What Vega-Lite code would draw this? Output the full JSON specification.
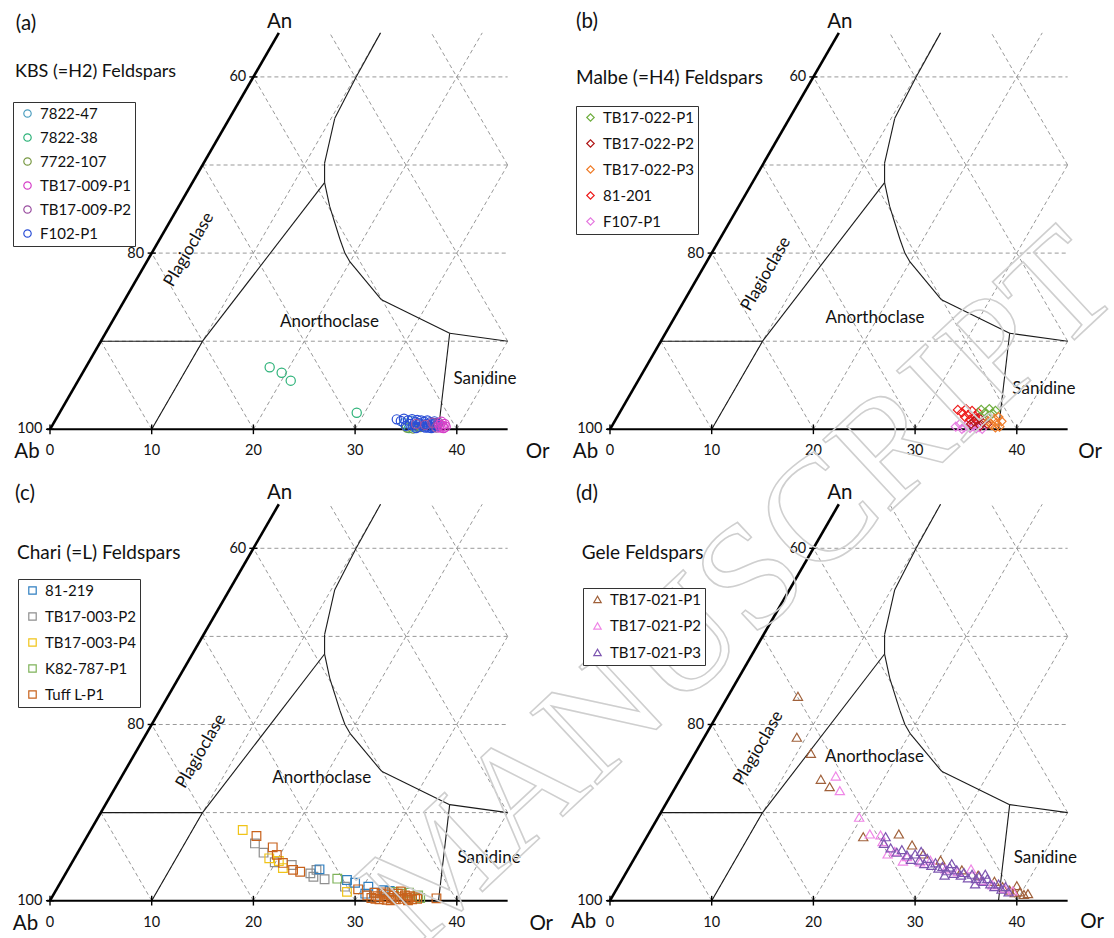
{
"$schema":"https://vega.github.io/schema/vega-lite/v6.json",
"padding":0,
"background":"white",
"config":{"view":{"stroke":null},"font":"Lato","text":{"font":"Lato","color":"#111"},"legend":{"title":null,"orient":"none","labelFont":"Lato","labelFontSize":15,"labelColor":"#111","symbolSize":55,"symbolStrokeWidth":1.2,"padding":4,"symbolOffset":3,"labelOffset":5,"strokeColor":"#333","fillColor":"white"}},
"datasets":{
"grid":[{"x":10,"y":0,"x2":32.5,"y2":45},{"x":20,"y":0,"x2":42.5,"y2":45},{"x":30,"y":0,"x2":45,"y2":30},{"x":40,"y":0,"x2":45,"y2":10},{"x":10,"y":0,"x2":5,"y2":10},{"x":20,"y":0,"x2":10,"y2":20},{"x":30,"y":0,"x2":15,"y2":30},{"x":40,"y":0,"x2":20,"y2":40},{"x":45,"y":10,"x2":27.5,"y2":45},{"x":45,"y":30,"x2":37.5,"y2":45},{"x":5,"y":10,"x2":45,"y2":10},{"x":10,"y":20,"x2":45,"y2":20},{"x":15,"y":30,"x2":45,"y2":30},{"x":20,"y":40,"x2":45,"y2":40}],
"bound":[{"x":5,"y":10,"x2":15,"y2":10},{"x":10,"y":0,"x2":15,"y2":10},{"x":15,"y":10,"x2":27,"y2":28},{"x":32.5,"y":45,"x2":30.1,"y2":40},{"x":30.1,"y":40,"x2":28.0,"y2":35.3},{"x":28.0,"y":35.3,"x2":27.0,"y2":30.2},{"x":27.0,"y":30.2,"x2":27.0,"y2":28},{"x":27.0,"y":28,"x2":27.5,"y2":25.3},{"x":27.5,"y":25.3,"x2":28.5,"y2":21.6},{"x":28.5,"y":21.6,"x2":29.0,"y2":20},{"x":29.0,"y":20,"x2":29.5,"y2":19},{"x":29.5,"y":19,"x2":32.6,"y2":14.7},{"x":32.6,"y":14.7,"x2":39.3,"y2":10.9},{"x":39.3,"y":10.9,"x2":45,"y2":10},{"x":39.3,"y":10.9,"x2":38.2,"y2":0}],
"edgeL":[{"x":0,"y":0,"x2":22.5,"y2":45}],
"edgeB":[{"x":-0.3,"y":0,"x2":45,"y2":0}],
"ticks":[{"x":0,"y":-0.55,"x2":0,"y2":0.55},{"x":10,"y":-0.55,"x2":10,"y2":0.55},{"x":20,"y":-0.55,"x2":20,"y2":0.55},{"x":30,"y":-0.55,"x2":30,"y2":0.55},{"x":40,"y":-0.55,"x2":40,"y2":0.55},{"x":-0.4,"y":0,"x2":0.4,"y2":0},{"x":9.6,"y":20,"x2":10.4,"y2":20},{"x":19.6,"y":40,"x2":20.4,"y2":40}],
"baseLabels":[{"x":0,"y":-2.5,"t":"0"},{"x":10,"y":-2.5,"t":"10"},{"x":20,"y":-2.5,"t":"20"},{"x":30,"y":-2.5,"t":"30"},{"x":40,"y":-2.5,"t":"40"}],
"leftLabels":[{"x":-0.75,"y":0,"t":"100"},{"x":9.25,"y":19.95,"t":"80"},{"x":19.3,"y":39.95,"t":"60"}]
},
"columns":2,
"spacing":0,
"bounds":"flush",
"resolve":{"scale":{"x":"independent","y":"independent","color":"independent"}},
"concat":[
{"width":555,"height":469,
"encoding":{"x":{"field":"x","type":"quantitative","scale":{"domain":[-4.917,49.656],"nice":false,"zero":false},"axis":null},"y":{"field":"y","type":"quantitative","scale":{"domain":[-4.506,48.73],"nice":false,"zero":false},"axis":null}},
"layer":[
{"data":{"name":"grid"},"mark":{"type":"rule","stroke":"#999","strokeWidth":1,"strokeDash":[4,3]},"encoding":{"x2":{"field":"x2"},"y2":{"field":"y2"}}},
{"data":{"name":"bound"},"mark":{"type":"rule","stroke":"#1a1a1a","strokeWidth":1.1},"encoding":{"x2":{"field":"x2"},"y2":{"field":"y2"}}},
{"data":{"name":"edgeL"},"mark":{"type":"rule","stroke":"#000","strokeWidth":2.6},"encoding":{"x2":{"field":"x2"},"y2":{"field":"y2"}}},
{"data":{"name":"edgeB"},"mark":{"type":"rule","stroke":"#000","strokeWidth":2},"encoding":{"x2":{"field":"x2"},"y2":{"field":"y2"}}},
{"data":{"name":"ticks"},"mark":{"type":"rule","stroke":"#000","strokeWidth":1.4},"encoding":{"x2":{"field":"x2"},"y2":{"field":"y2"}}},
{"data":{"name":"baseLabels"},"mark":{"type":"text","fontSize":14.5,"align":"center","baseline":"middle"},"encoding":{"text":{"field":"t"}}},
{"data":{"name":"leftLabels"},"mark":{"type":"text","fontSize":14.5,"align":"right","baseline":"middle"},"encoding":{"text":{"field":"t"}}},
{"data":{"values":[{"x":-2.36,"y":46.0,"t":"(a)"},{"x":22.57,"y":46.23,"t":"An"},{"x":-2.26,"y":-2.57,"t":"Ab"},{"x":47.94,"y":-2.57,"t":"Or"}]},"mark":{"type":"text","fontSize":20.5,"align":"center","baseline":"middle"},"encoding":{"text":{"field":"t"}}},
{"data":{"values":[{"x":-3.44,"y":40.56,"t":"KBS (=H2) Feldspars"}]},"mark":{"type":"text","fontSize":18,"align":"left","baseline":"middle"},"encoding":{"text":{"field":"t"}}},
{"data":{"values":[{"x":27.48,"y":12.21,"t":"Anorthoclase"},{"x":42.77,"y":5.71,"t":"Sanidine"}]},"mark":{"type":"text","fontSize":17,"align":"center","baseline":"middle"},"encoding":{"text":{"field":"t"}}},
{"data":{"values":[{"x":13.67,"y":20.4,"t":"Plagioclase"}]},"mark":{"type":"text","fontSize":17,"align":"center","baseline":"middle","angle":-60},"encoding":{"text":{"field":"t"}}},
{"data":{"values":[
{"s":"7822-38","x":21.6,"y":7.04},{"s":"7822-38","x":22.78,"y":6.42},{"s":"7822-38","x":23.67,"y":5.52},{"s":"7822-38","x":30.16,"y":1.88},{"s":"7822-38","x":35.3,"y":0.15},{"s":"7822-38","x":35.9,"y":0.3},
{"s":"7822-47","x":34.8,"y":0.7},{"s":"7822-47","x":35.5,"y":0.95},{"s":"7822-47","x":36.3,"y":0.55},
{"s":"7722-107","x":35.1,"y":0.2},{"s":"7722-107","x":35.7,"y":0.1},{"s":"7722-107","x":36.4,"y":0.25},
{"s":"F102-P1","x":34.1,"y":1.13},{"s":"F102-P1","x":34.5,"y":0.95},{"s":"F102-P1","x":34.8,"y":1.2},{"s":"F102-P1","x":35.2,"y":1.0},{"s":"F102-P1","x":35.4,"y":0.6},{"s":"F102-P1","x":35.6,"y":1.15},{"s":"F102-P1","x":35.9,"y":0.8},{"s":"F102-P1","x":36.1,"y":1.05},{"s":"F102-P1","x":36.3,"y":0.7},{"s":"F102-P1","x":36.5,"y":1.0},{"s":"F102-P1","x":36.6,"y":0.45},{"s":"F102-P1","x":36.8,"y":0.85},{"s":"F102-P1","x":37.0,"y":0.6},{"s":"F102-P1","x":37.1,"y":1.0},{"s":"F102-P1","x":37.3,"y":0.4},{"s":"F102-P1","x":37.4,"y":0.8},{"s":"F102-P1","x":37.6,"y":0.55},{"s":"F102-P1","x":37.7,"y":0.25},{"s":"F102-P1","x":37.9,"y":0.7},{"s":"F102-P1","x":38.0,"y":0.4},{"s":"F102-P1","x":36.9,"y":0.2},{"s":"F102-P1","x":36.2,"y":0.3},{"s":"F102-P1","x":35.7,"y":0.45},{"s":"F102-P1","x":35.0,"y":0.4},{"s":"F102-P1","x":37.5,"y":0.15},{"s":"F102-P1","x":38.1,"y":0.6},{"s":"F102-P1","x":36.0,"y":0.15},{"s":"F102-P1","x":36.7,"y":0.3},{"s":"F102-P1","x":37.2,"y":0.2},{"s":"F102-P1","x":37.8,"y":0.9},
{"s":"TB17-009-P2","x":36.0,"y":0.6},{"s":"TB17-009-P2","x":36.9,"y":0.5},{"s":"TB17-009-P2","x":37.6,"y":0.75},{"s":"TB17-009-P2","x":38.2,"y":0.75},{"s":"TB17-009-P2","x":38.0,"y":0.2},
{"s":"TB17-009-P1","x":38.3,"y":0.5},{"s":"TB17-009-P1","x":38.6,"y":0.4},{"s":"TB17-009-P1","x":38.8,"y":0.6},{"s":"TB17-009-P1","x":38.5,"y":0.85},{"s":"TB17-009-P1","x":38.9,"y":0.3},{"s":"TB17-009-P1","x":38.4,"y":0.2},{"s":"TB17-009-P1","x":38.7,"y":0.15}
]},
"mark":{"type":"point","shape":"circle","filled":false,"size":85,"strokeWidth":1.2,"opacity":1},
"encoding":{"color":{"field":"s","type":"nominal","scale":{"domain":["7822-47","7822-38","7722-107","TB17-009-P1","TB17-009-P2","F102-P1"],"range":["#4f9fc0","#2fb37a","#7a9a45","#d63fc8","#9a4fa0","#2b4fd6"]},"legend":{"legendX":13,"legendY":102,"symbolType":"circle","rowPadding":8}}}}
]},
{"width":559,"height":469,
"encoding":{"x":{"field":"x","type":"quantitative","scale":{"domain":[-5.408,49.558],"nice":false,"zero":false},"axis":null},"y":{"field":"y","type":"quantitative","scale":{"domain":[-4.506,48.73],"nice":false,"zero":false},"axis":null}},
"layer":[
{"data":{"name":"grid"},"mark":{"type":"rule","stroke":"#999","strokeWidth":1,"strokeDash":[4,3]},"encoding":{"x2":{"field":"x2"},"y2":{"field":"y2"}}},
{"data":{"name":"bound"},"mark":{"type":"rule","stroke":"#1a1a1a","strokeWidth":1.1},"encoding":{"x2":{"field":"x2"},"y2":{"field":"y2"}}},
{"data":{"name":"edgeL"},"mark":{"type":"rule","stroke":"#000","strokeWidth":2.6},"encoding":{"x2":{"field":"x2"},"y2":{"field":"y2"}}},
{"data":{"name":"edgeB"},"mark":{"type":"rule","stroke":"#000","strokeWidth":2},"encoding":{"x2":{"field":"x2"},"y2":{"field":"y2"}}},
{"data":{"name":"ticks"},"mark":{"type":"rule","stroke":"#000","strokeWidth":1.4},"encoding":{"x2":{"field":"x2"},"y2":{"field":"y2"}}},
{"data":{"name":"baseLabels"},"mark":{"type":"text","fontSize":14.5,"align":"center","baseline":"middle"},"encoding":{"text":{"field":"t"}}},
{"data":{"name":"leftLabels"},"mark":{"type":"text","fontSize":14.5,"align":"right","baseline":"middle"},"encoding":{"text":{"field":"t"}}},
{"data":{"values":[{"x":-2.26,"y":46.23,"t":"(b)"},{"x":22.6,"y":46.23,"t":"An"},{"x":-2.41,"y":-2.57,"t":"Ab"},{"x":47.2,"y":-2.57,"t":"Or"}]},"mark":{"type":"text","fontSize":20.5,"align":"center","baseline":"middle"},"encoding":{"text":{"field":"t"}}},
{"data":{"values":[{"x":-3.34,"y":39.87,"t":"Malbe (=H4) Feldspars"}]},"mark":{"type":"text","fontSize":19,"align":"left","baseline":"middle"},"encoding":{"text":{"field":"t"}}},
{"data":{"values":[{"x":26.06,"y":12.6,"t":"Anorthoclase"},{"x":42.67,"y":4.52,"t":"Sanidine"}]},"mark":{"type":"text","fontSize":17,"align":"center","baseline":"middle"},"encoding":{"text":{"field":"t"}}},
{"data":{"values":[{"x":15.34,"y":17.63,"t":"Plagioclase"}]},"mark":{"type":"text","fontSize":17,"align":"center","baseline":"middle","angle":-60},"encoding":{"text":{"field":"t"}}},
{"data":{"values":[
{"s":"F107-P1","x":34.0,"y":0.3},{"s":"F107-P1","x":34.4,"y":0.6},{"s":"F107-P1","x":34.8,"y":0.2},{"s":"F107-P1","x":35.1,"y":0.5},{"s":"F107-P1","x":35.4,"y":0.15},{"s":"F107-P1","x":35.7,"y":0.35},{"s":"F107-P1","x":36.0,"y":0.1},{"s":"F107-P1","x":36.3,"y":0.25},{"s":"F107-P1","x":36.6,"y":0.05},{"s":"F107-P1","x":34.6,"y":0.05},{"s":"F107-P1","x":35.9,"y":0.6},
{"s":"81-201","x":34.2,"y":2.2},{"s":"81-201","x":34.6,"y":1.9},{"s":"81-201","x":35.0,"y":2.3},{"s":"81-201","x":35.3,"y":1.7},{"s":"81-201","x":35.6,"y":2.1},{"s":"81-201","x":35.9,"y":1.5},{"s":"81-201","x":34.9,"y":1.4},{"s":"81-201","x":36.2,"y":1.9},{"s":"81-201","x":35.4,"y":1.1},{"s":"81-201","x":36.0,"y":1.2},
{"s":"TB17-022-P2","x":35.8,"y":0.9},{"s":"TB17-022-P2","x":36.3,"y":1.3},{"s":"TB17-022-P2","x":36.6,"y":0.8},{"s":"TB17-022-P2","x":36.9,"y":1.1},{"s":"TB17-022-P2","x":36.4,"y":0.4},{"s":"TB17-022-P2","x":37.1,"y":0.6},{"s":"TB17-022-P2","x":35.5,"y":0.6},
{"s":"TB17-022-P1","x":36.5,"y":2.2},{"s":"TB17-022-P1","x":36.9,"y":1.9},{"s":"TB17-022-P1","x":37.3,"y":2.3},{"s":"TB17-022-P1","x":37.6,"y":1.8},{"s":"TB17-022-P1","x":37.9,"y":2.1},{"s":"TB17-022-P1","x":37.2,"y":1.5},
{"s":"TB17-022-P3","x":37.2,"y":0.9},{"s":"TB17-022-P3","x":37.5,"y":0.5},{"s":"TB17-022-P3","x":37.8,"y":1.2},{"s":"TB17-022-P3","x":38.0,"y":0.7},{"s":"TB17-022-P3","x":38.3,"y":0.3},{"s":"TB17-022-P3","x":38.5,"y":0.9},{"s":"TB17-022-P3","x":37.9,"y":0.2},{"s":"TB17-022-P3","x":38.2,"y":1.4}
]},
"mark":{"type":"point","shape":"diamond","filled":false,"size":80,"strokeWidth":1.2,"opacity":1},
"encoding":{"color":{"field":"s","type":"nominal","scale":{"domain":["TB17-022-P1","TB17-022-P2","TB17-022-P3","81-201","F107-P1"],"range":["#6fae3f","#b01818","#f07d2a","#ee1c1c","#e67be0"]},"legend":{"legendX":21,"legendY":106,"symbolType":"diamond","rowPadding":10}}}}
]},
{"width":555,"height":469,
"encoding":{"x":{"field":"x","type":"quantitative","scale":{"domain":[-4.917,49.656],"nice":false,"zero":false},"axis":null},"y":{"field":"y","type":"quantitative","scale":{"domain":[-4.234,49.0],"nice":false,"zero":false},"axis":null}},
"layer":[
{"data":{"name":"grid"},"mark":{"type":"rule","stroke":"#999","strokeWidth":1,"strokeDash":[4,3]},"encoding":{"x2":{"field":"x2"},"y2":{"field":"y2"}}},
{"data":{"name":"bound"},"mark":{"type":"rule","stroke":"#1a1a1a","strokeWidth":1.1},"encoding":{"x2":{"field":"x2"},"y2":{"field":"y2"}}},
{"data":{"name":"edgeL"},"mark":{"type":"rule","stroke":"#000","strokeWidth":2.6},"encoding":{"x2":{"field":"x2"},"y2":{"field":"y2"}}},
{"data":{"name":"edgeB"},"mark":{"type":"rule","stroke":"#000","strokeWidth":2},"encoding":{"x2":{"field":"x2"},"y2":{"field":"y2"}}},
{"data":{"name":"ticks"},"mark":{"type":"rule","stroke":"#000","strokeWidth":1.4},"encoding":{"x2":{"field":"x2"},"y2":{"field":"y2"}}},
{"data":{"name":"baseLabels"},"mark":{"type":"text","fontSize":14.5,"align":"center","baseline":"middle"},"encoding":{"text":{"field":"t"}}},
{"data":{"name":"leftLabels"},"mark":{"type":"text","fontSize":14.5,"align":"right","baseline":"middle"},"encoding":{"text":{"field":"t"}}},
{"data":{"values":[{"x":-2.46,"y":46.16,"t":"(c)"},{"x":22.57,"y":46.28,"t":"An"},{"x":-2.41,"y":-2.7,"t":"Ab"},{"x":48.3,"y":-2.64,"t":"Or"}]},"mark":{"type":"text","fontSize":20.5,"align":"center","baseline":"middle"},"encoding":{"text":{"field":"t"}}},
{"data":{"values":[{"x":-3.24,"y":39.47,"t":"Chari (=L) Feldspars"}]},"mark":{"type":"text","fontSize":19,"align":"left","baseline":"middle"},"encoding":{"text":{"field":"t"}}},
{"data":{"values":[{"x":26.72,"y":13.88,"t":"Anorthoclase"},{"x":43.17,"y":4.85,"t":"Sanidine"}]},"mark":{"type":"text","fontSize":17,"align":"center","baseline":"middle"},"encoding":{"text":{"field":"t"}}},
{"data":{"values":[{"x":14.85,"y":16.97,"t":"Plagioclase"}]},"mark":{"type":"text","fontSize":17,"align":"center","baseline":"middle","angle":-60},"encoding":{"text":{"field":"t"}}},
{"data":{"values":[
{"s":"TB17-003-P2","x":20.15,"y":6.5},{"s":"TB17-003-P2","x":21.0,"y":5.45},{"s":"TB17-003-P2","x":22.1,"y":4.36},{"s":"TB17-003-P2","x":23.77,"y":4.05},{"s":"TB17-003-P2","x":25.6,"y":3.1},{"s":"TB17-003-P2","x":25.9,"y":2.72},{"s":"TB17-003-P2","x":26.2,"y":3.5},{"s":"TB17-003-P2","x":27.0,"y":2.43},{"s":"TB17-003-P2","x":29.0,"y":1.59},
{"s":"TB17-003-P4","x":18.95,"y":8.02},{"s":"TB17-003-P4","x":21.56,"y":4.81},{"s":"TB17-003-P4","x":22.9,"y":3.7},{"s":"TB17-003-P4","x":29.2,"y":1.0},{"s":"TB17-003-P4","x":22.5,"y":4.5},
{"s":"81-219","x":26.5,"y":3.56},{"s":"81-219","x":29.2,"y":2.35},{"s":"81-219","x":30.0,"y":2.04},{"s":"81-219","x":31.3,"y":1.59},{"s":"81-219","x":32.8,"y":1.2},{"s":"81-219","x":33.4,"y":1.1},{"s":"81-219","x":32.0,"y":0.9},{"s":"81-219","x":31.0,"y":0.8},
{"s":"K82-787-P1","x":28.25,"y":2.5},{"s":"K82-787-P1","x":33.8,"y":1.0},{"s":"K82-787-P1","x":34.6,"y":0.8},{"s":"K82-787-P1","x":35.3,"y":0.9},{"s":"K82-787-P1","x":36.2,"y":0.6},{"s":"K82-787-P1","x":36.4,"y":0.3},
{"s":"Tuff L-P1","x":20.3,"y":7.34},{"s":"Tuff L-P1","x":21.9,"y":6.06},{"s":"Tuff L-P1","x":22.3,"y":5.2},{"s":"Tuff L-P1","x":22.9,"y":4.29},{"s":"Tuff L-P1","x":23.9,"y":3.5},{"s":"Tuff L-P1","x":24.6,"y":3.29},{"s":"Tuff L-P1","x":30.3,"y":1.29},{"s":"Tuff L-P1","x":38.0,"y":0.27},
{"s":"Tuff L-P1","x":31.2,"y":0.6},{"s":"Tuff L-P1","x":31.6,"y":0.3},{"s":"Tuff L-P1","x":31.9,"y":0.9},{"s":"Tuff L-P1","x":32.2,"y":0.5},{"s":"Tuff L-P1","x":32.4,"y":0.15},{"s":"Tuff L-P1","x":32.6,"y":0.8},{"s":"Tuff L-P1","x":32.9,"y":0.4},{"s":"Tuff L-P1","x":33.1,"y":0.1},{"s":"Tuff L-P1","x":33.3,"y":0.7},{"s":"Tuff L-P1","x":33.6,"y":0.3},{"s":"Tuff L-P1","x":33.8,"y":0.55},{"s":"Tuff L-P1","x":34.0,"y":0.15},{"s":"Tuff L-P1","x":34.2,"y":0.8},{"s":"Tuff L-P1","x":34.4,"y":0.4},{"s":"Tuff L-P1","x":34.7,"y":0.2},{"s":"Tuff L-P1","x":34.9,"y":0.6},{"s":"Tuff L-P1","x":35.1,"y":0.3},{"s":"Tuff L-P1","x":35.4,"y":0.5},{"s":"Tuff L-P1","x":35.6,"y":0.15},{"s":"Tuff L-P1","x":35.9,"y":0.4},{"s":"Tuff L-P1","x":36.1,"y":0.2},{"s":"Tuff L-P1","x":33.0,"y":0.95},{"s":"Tuff L-P1","x":34.5,"y":1.05},{"s":"Tuff L-P1","x":32.0,"y":0.2},{"s":"Tuff L-P1","x":35.2,"y":0.05},{"s":"Tuff L-P1","x":33.5,"y":0.05}
]},
"mark":{"type":"point","shape":"square","filled":false,"size":75,"strokeWidth":1.2,"opacity":1},
"encoding":{"color":{"field":"s","type":"nominal","scale":{"domain":["81-219","TB17-003-P2","TB17-003-P4","K82-787-P1","Tuff L-P1"],"range":["#2f7fc1","#8f8f8f","#f0c419","#7fb35a","#c8621c"]},"legend":{"legendX":18,"legendY":110,"symbolType":"square","rowPadding":10}}}}
]},
{"width":559,"height":469,
"encoding":{"x":{"field":"x","type":"quantitative","scale":{"domain":[-5.408,49.558],"nice":false,"zero":false},"axis":null},"y":{"field":"y","type":"quantitative","scale":{"domain":[-4.234,49.0],"nice":false,"zero":false},"axis":null}},
"layer":[
{"data":{"name":"grid"},"mark":{"type":"rule","stroke":"#999","strokeWidth":1,"strokeDash":[4,3]},"encoding":{"x2":{"field":"x2"},"y2":{"field":"y2"}}},
{"data":{"name":"bound"},"mark":{"type":"rule","stroke":"#1a1a1a","strokeWidth":1.1},"encoding":{"x2":{"field":"x2"},"y2":{"field":"y2"}}},
{"data":{"name":"edgeL"},"mark":{"type":"rule","stroke":"#000","strokeWidth":2.6},"encoding":{"x2":{"field":"x2"},"y2":{"field":"y2"}}},
{"data":{"name":"edgeB"},"mark":{"type":"rule","stroke":"#000","strokeWidth":2},"encoding":{"x2":{"field":"x2"},"y2":{"field":"y2"}}},
{"data":{"name":"ticks"},"mark":{"type":"rule","stroke":"#000","strokeWidth":1.4},"encoding":{"x2":{"field":"x2"},"y2":{"field":"y2"}}},
{"data":{"name":"baseLabels"},"mark":{"type":"text","fontSize":14.5,"align":"center","baseline":"middle"},"encoding":{"text":{"field":"t"}}},
{"data":{"name":"leftLabels"},"mark":{"type":"text","fontSize":14.5,"align":"right","baseline":"middle"},"encoding":{"text":{"field":"t"}}},
{"data":{"values":[{"x":-2.26,"y":46.16,"t":"(d)"},{"x":22.6,"y":46.28,"t":"An"},{"x":-2.6,"y":-2.4,"t":"Ab"},{"x":47.4,"y":-2.4,"t":"Or"}]},"mark":{"type":"text","fontSize":20.5,"align":"center","baseline":"middle"},"encoding":{"text":{"field":"t"}}},
{"data":{"values":[{"x":-2.78,"y":39.47,"t":"Gele Feldspars"}]},"mark":{"type":"text","fontSize":19,"align":"left","baseline":"middle"},"encoding":{"text":{"field":"t"}}},
{"data":{"values":[{"x":26.0,"y":16.31,"t":"Anorthoclase"},{"x":42.8,"y":4.9,"t":"Sanidine"}]},"mark":{"type":"text","fontSize":17,"align":"center","baseline":"middle"},"encoding":{"text":{"field":"t"}}},
{"data":{"values":[{"x":14.6,"y":17.33,"t":"Plagioclase"}]},"mark":{"type":"text","fontSize":17,"align":"center","baseline":"middle","angle":-60},"encoding":{"text":{"field":"t"}}},
{"data":{"values":[
{"s":"TB17-021-P1","x":18.48,"y":23.2},{"s":"TB17-021-P1","x":18.37,"y":18.55},{"s":"TB17-021-P1","x":19.75,"y":16.73},{"s":"TB17-021-P1","x":20.73,"y":13.78},{"s":"TB17-021-P1","x":21.6,"y":12.94},{"s":"TB17-021-P1","x":24.9,"y":7.26},{"s":"TB17-021-P1","x":28.4,"y":7.57},{"s":"TB17-021-P1","x":29.7,"y":6.32},{"s":"TB17-021-P1","x":30.8,"y":5.3},{"s":"TB17-021-P1","x":32.5,"y":4.6},{"s":"TB17-021-P1","x":34.6,"y":3.5},{"s":"TB17-021-P1","x":36.2,"y":2.9},{"s":"TB17-021-P1","x":37.8,"y":2.2},{"s":"TB17-021-P1","x":38.6,"y":1.6},{"s":"TB17-021-P1","x":39.3,"y":1.2},{"s":"TB17-021-P1","x":40.0,"y":1.7},{"s":"TB17-021-P1","x":40.3,"y":1.0},{"s":"TB17-021-P1","x":40.7,"y":0.7},{"s":"TB17-021-P1","x":41.1,"y":0.8},{"s":"TB17-021-P1","x":39.8,"y":0.9},
{"s":"TB17-021-P2","x":22.2,"y":14.15},{"s":"TB17-021-P2","x":22.6,"y":12.49},{"s":"TB17-021-P2","x":24.5,"y":9.47},{"s":"TB17-021-P2","x":25.55,"y":7.57},{"s":"TB17-021-P2","x":26.6,"y":7.46},{"s":"TB17-021-P2","x":26.8,"y":6.7},{"s":"TB17-021-P2","x":28.0,"y":5.6},{"s":"TB17-021-P2","x":29.2,"y":5.0},{"s":"TB17-021-P2","x":30.5,"y":4.4},{"s":"TB17-021-P2","x":31.5,"y":4.6},{"s":"TB17-021-P2","x":33.0,"y":3.6},{"s":"TB17-021-P2","x":34.2,"y":3.3},{"s":"TB17-021-P2","x":35.5,"y":3.6},{"s":"TB17-021-P2","x":36.5,"y":2.3},{"s":"TB17-021-P2","x":37.6,"y":1.8},{"s":"TB17-021-P2","x":38.8,"y":1.4},{"s":"TB17-021-P2","x":39.6,"y":1.1},{"s":"TB17-021-P2","x":27.3,"y":5.3},{"s":"TB17-021-P2","x":28.8,"y":4.5},
{"s":"TB17-021-P3","x":27.1,"y":7.26},{"s":"TB17-021-P3","x":26.94,"y":6.5},{"s":"TB17-021-P3","x":27.6,"y":6.0},{"s":"TB17-021-P3","x":28.2,"y":5.5},{"s":"TB17-021-P3","x":28.7,"y":5.8},{"s":"TB17-021-P3","x":29.2,"y":5.2},{"s":"TB17-021-P3","x":29.6,"y":4.7},{"s":"TB17-021-P3","x":30.0,"y":5.3},{"s":"TB17-021-P3","x":30.4,"y":4.6},{"s":"TB17-021-P3","x":30.9,"y":4.2},{"s":"TB17-021-P3","x":31.2,"y":4.8},{"s":"TB17-021-P3","x":31.6,"y":4.0},{"s":"TB17-021-P3","x":32.0,"y":4.3},{"s":"TB17-021-P3","x":32.3,"y":3.7},{"s":"TB17-021-P3","x":32.7,"y":3.9},{"s":"TB17-021-P3","x":33.1,"y":3.4},{"s":"TB17-021-P3","x":33.4,"y":3.8},{"s":"TB17-021-P3","x":33.8,"y":3.1},{"s":"TB17-021-P3","x":34.1,"y":3.5},{"s":"TB17-021-P3","x":34.5,"y":2.9},{"s":"TB17-021-P3","x":34.8,"y":3.2},{"s":"TB17-021-P3","x":35.2,"y":2.6},{"s":"TB17-021-P3","x":35.6,"y":3.0},{"s":"TB17-021-P3","x":36.0,"y":2.5},{"s":"TB17-021-P3","x":36.3,"y":2.8},{"s":"TB17-021-P3","x":36.7,"y":2.2},{"s":"TB17-021-P3","x":37.1,"y":2.5},{"s":"TB17-021-P3","x":37.4,"y":1.9},{"s":"TB17-021-P3","x":37.8,"y":1.6},{"s":"TB17-021-P3","x":38.2,"y":1.9},{"s":"TB17-021-P3","x":38.5,"y":1.3},{"s":"TB17-021-P3","x":38.9,"y":1.6},{"s":"TB17-021-P3","x":39.2,"y":1.0},{"s":"TB17-021-P3","x":36.9,"y":3.0},{"s":"TB17-021-P3","x":33.6,"y":4.2},{"s":"TB17-021-P3","x":30.6,"y":5.6},{"s":"TB17-021-P3","x":35.9,"y":1.9},{"s":"TB17-021-P3","x":32.9,"y":2.9}
]},
"mark":{"type":"point","shape":"triangle-up","filled":false,"size":85,"strokeWidth":1.2,"opacity":1},
"encoding":{"color":{"field":"s","type":"nominal","scale":{"domain":["TB17-021-P1","TB17-021-P2","TB17-021-P3"],"range":["#a0603a","#ef86e6","#7d55b0"]},"legend":{"legendX":28,"legendY":119,"symbolType":"triangle-up","rowPadding":10.5}}}},
{"data":{"values":[{"x":12.8,"y":35.3,"t":"MANUSCRIPT"}]},"mark":{"type":"text","font":"Liberation Serif","fontSize":150,"align":"center","baseline":"middle","angle":-43,"fill":"white","fillOpacity":0,"stroke":"#cfcfcf","strokeWidth":1.6},"encoding":{"text":{"field":"t"}}}
]}
]
}
